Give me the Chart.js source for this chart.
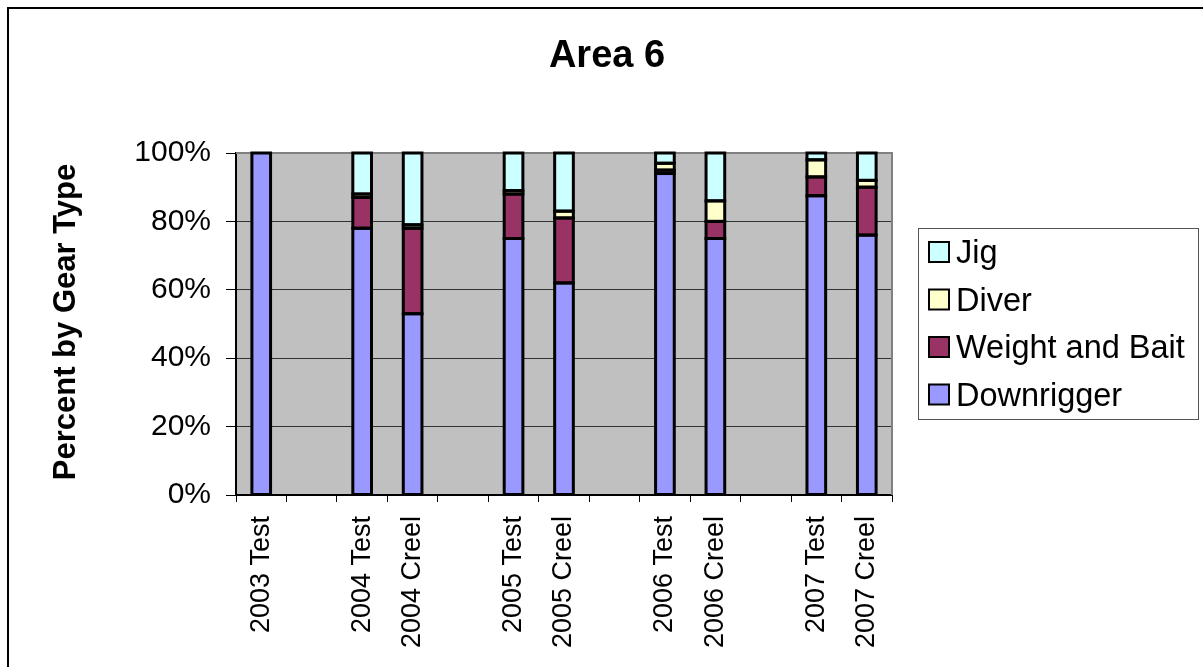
<!DOCTYPE html>
<html>
<head>
<meta charset="utf-8">
<title>Area 6</title>
<script src="https://cdn.jsdelivr.net/npm/chart.js@4.4.1/dist/chart.umd.min.js"></script>
<style>
  html, body { margin: 0; padding: 0; background: #ffffff; }
  #wrap { width: 1203px; height: 667px; }
</style>
</head>
<body>
<div id="wrap"><canvas id="c" width="1203" height="667"></canvas></div>
<script>
// Gear-type share (%) by survey; blank slots separate the years
const categories = ['2003 Test', '', '2004 Test', '2004 Creel', '', '2005 Test', '2005 Creel', '', '2006 Test', '2006 Creel', '', '2007 Test', '2007 Creel'];
const downrigger = [100, null, 78, 53, null, 75, 62, null, 94, 75, null, 87.5, 76];
const weightAndBait = [0, null, 9, 25, null, 13, 19, null, 1, 5, null, 5.5, 14];
const diver = [0, null, 1, 1, null, 1, 2, null, 2, 6, null, 5, 2];
const jig = [0, null, 12, 21, null, 11, 17, null, 3, 14, null, 2, 8];
const yTicks = [0, 20, 40, 60, 80, 100];

const FONT = "'Liberation Sans', Arial, Helvetica, sans-serif";

// Background, outer frame, bar outlines, chart title, axis title and boxed legend
const decorations = {
  id: 'decorations',
  beforeDraw(chart) {
    const { ctx, chartArea: a } = chart;
    ctx.save();
    ctx.fillStyle = '#ffffff';
    ctx.fillRect(0, 0, chart.width, chart.height);
    ctx.strokeStyle = '#000000';
    ctx.lineWidth = 2;
    ctx.strokeRect(8, 8, chart.width + 20, chart.height + 20);
    ctx.fillStyle = '#c0c0c0';
    ctx.fillRect(a.left, a.top, a.right - a.left, a.bottom - a.top);
    ctx.restore();
  },
  beforeDatasetsDraw(chart) {
    const { ctx, chartArea: a } = chart;
    ctx.save();
    ctx.strokeStyle = '#808080';
    ctx.lineWidth = 2;
    ctx.beginPath();
    ctx.moveTo(a.left, a.top);
    ctx.lineTo(a.right, a.top);
    ctx.lineTo(a.right, a.bottom);
    ctx.stroke();
    ctx.restore();
  },
  afterDatasetsDraw(chart) {
    // centred outlines around every stacked segment
    const { ctx } = chart;
    ctx.save();
    ctx.strokeStyle = '#000000';
    ctx.lineWidth = 3;
    chart.data.datasets.forEach((ds, di) => {
      const meta = chart.getDatasetMeta(di);
      meta.data.forEach((bar, i) => {
        const v = ds.data[i];
        if (v === null || v === 0) return;
        const p = bar.getProps(['x', 'y', 'base', 'width'], true);
        ctx.strokeRect(p.x - p.width / 2, p.y, p.width, p.base - p.y);
      });
    });
    ctx.restore();
  },
  afterDraw(chart) {
    const { ctx } = chart;
    ctx.save();
    ctx.fillStyle = '#000000';
    ctx.textAlign = 'center';
    ctx.textBaseline = 'alphabetic';
    ctx.font = 'bold 38px ' + FONT;
    ctx.fillText('Area 6', 607, 66.5);

    ctx.translate(75, 322);
    ctx.rotate(-Math.PI / 2);
    ctx.font = 'bold 31px ' + FONT;
    ctx.fillText('Percent by Gear Type', 0, 0);
    ctx.restore();

    // legend, top series first
    ctx.save();
    ctx.fillStyle = '#ffffff';
    ctx.fillRect(918.5, 228.5, 280, 191);
    ctx.strokeStyle = '#555555';
    ctx.lineWidth = 1;
    ctx.strokeRect(918.5, 228.5, 280, 191);
    const items = chart.data.datasets.slice().reverse();
    ctx.font = '32.5px ' + FONT;
    ctx.textAlign = 'left';
    ctx.textBaseline = 'alphabetic';
    items.forEach((ds, i) => {
      const base = 263 + i * 47.5;
      ctx.fillStyle = ds.backgroundColor;
      ctx.fillRect(929, base - 21, 20, 20);
      ctx.strokeStyle = '#000000';
      ctx.lineWidth = 2;
      ctx.strokeRect(929, base - 21, 20, 20);
      ctx.fillStyle = '#000000';
      ctx.fillText(ds.label, 956, base);
    });
    ctx.restore();
  }
};

const barStyle = {
  borderWidth: 0,
  barPercentage: 0.37,
  categoryPercentage: 1.0
};

new Chart(document.getElementById('c'), {
  type: 'bar',
  data: {
    labels: categories,
    datasets: [
      Object.assign({ label: 'Downrigger', data: downrigger, backgroundColor: '#9999ff' }, barStyle),
      Object.assign({ label: 'Weight and Bait', data: weightAndBait, backgroundColor: '#993366' }, barStyle),
      Object.assign({ label: 'Diver', data: diver, backgroundColor: '#ffffcc' }, barStyle),
      Object.assign({ label: 'Jig', data: jig, backgroundColor: '#ccffff' }, barStyle)
    ]
  },
  options: {
    responsive: false,
    animation: false,
    devicePixelRatio: 1,
    layout: { padding: { left: 0, top: 153, right: 311, bottom: 0 } },
    plugins: {
      legend: { display: false },
      title: { display: false },
      tooltip: { enabled: false }
    },
    scales: {
      x: {
        stacked: true,
        offset: true,
        grid: {
          display: true,
          drawOnChartArea: false,
          drawTicks: true,
          tickLength: 7,
          color: '#000000',
          offset: true
        },
        border: { display: true, color: '#000000', width: 2 },
        ticks: {
          autoSkip: false,
          minRotation: 90,
          maxRotation: 90,
          padding: 14,
          color: '#000000',
          font: { family: FONT, size: 27 }
        },
        afterFit(scale) {
          scale.height = 172;
          scale.paddingLeft = 0;
          scale.paddingRight = 0;
        }
      },
      y: {
        stacked: true,
        min: 0,
        max: 100,
        afterBuildTicks(scale) {
          scale.ticks = yTicks.map(v => ({ value: v }));
        },
        grid: {
          color: '#333333',
          lineWidth: 1,
          drawTicks: true,
          tickLength: 10,
          tickColor: '#000000'
        },
        border: { display: true, color: '#000000', width: 2 },
        ticks: {
          padding: 15,
          color: '#000000',
          font: { family: FONT, size: 30 },
          callback: v => v + '%'
        },
        afterFit(scale) {
          scale.width = 236;
        }
      }
    }
  },
  plugins: [decorations]
});
</script>
</body>
</html>
